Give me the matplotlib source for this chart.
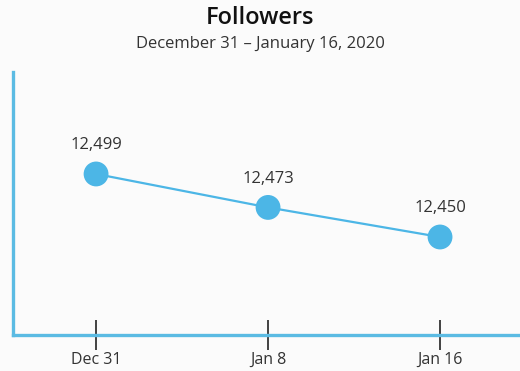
import matplotlib
matplotlib.use("Agg")
import matplotlib.pyplot as plt

dates = ["Dec 31", "Jan 8", "Jan 16"]
followers = [12499, 12473, 12450]

blue = "#4cb6e6"
spine_blue = "#5bbbe3"
bg = "#fbfbfb"

plt.rcParams["font.family"] = ["Open Sans", "DejaVu Sans"]

fig = plt.figure(figsize=(5.2, 3.71), dpi=100, facecolor=bg)
ax = fig.add_axes([0.025, 0.097, 0.975, 0.709], facecolor=bg)

x = list(range(len(dates)))
ax.plot(x, followers, color=blue, lw=1.6, zorder=2)
ax.scatter(x, followers, s=320, color=blue, zorder=3, edgecolors="none")

for xi, v in zip(x, followers):
    ax.annotate(f"{v:,}", (xi, v), xytext=(0, 15), textcoords="offset points",
                ha="center", va="bottom", fontsize=12, color="#333333")

ax.set_xlim(-0.483, 2.465)
ax.set_ylim(12373.8, 12578.3)

ax.set_xticks(x)
ax.set_xticklabels(dates, fontsize=11.5, color="#333333")
ax.set_yticks([])
ax.tick_params(axis="x", direction="inout", length=22, width=1.3,
               color="#333333", pad=1)

for side in ("top", "right"):
    ax.spines[side].set_visible(False)
for side in ("left", "bottom"):
    ax.spines[side].set_color(spine_blue)
    ax.spines[side].set_linewidth(2.4)

fig.text(0.5, 0.951, "Followers", ha="center", va="center",
         fontsize=17, fontweight="semibold", color="#111111")
fig.text(0.5, 0.881, "December 31 \u2013 January 16, 2020", ha="center",
         va="center", fontsize=12, color="#333333")

fig.savefig("out.png", dpi=100, facecolor=bg)
